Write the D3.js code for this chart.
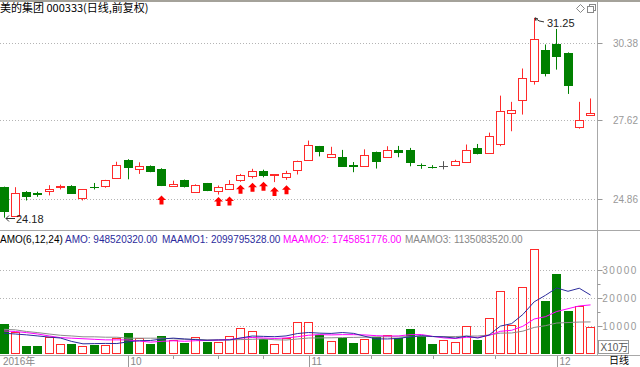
<!DOCTYPE html>
<html><head><meta charset="utf-8">
<script src="https://cdn.jsdelivr.net/npm/d3@7"></script>
<style>
body{margin:0;background:#fff}
svg{display:block}
text{font-family:"Liberation Sans",Arial,"Noto Sans CJK SC",sans-serif}
</style>
</head><body>
<svg id="c" width="640" height="367"></svg>
<script>
// ---------- data ----------
const title = "美的集团 000333(日线,前复权)";
const openP  = [25.26,24.24,25.10,25.05,25.12,25.26,25.30,24.88,25.28,25.30,25.59,26.21,25.90,26.02,25.91,25.30,25.51,25.10,25.40,25.13,25.18,25.53,25.67,25.84,25.70,25.63,25.88,26.21,26.71,26.34,26.34,26.04,26.02,26.51,26.34,26.57,26.57,26.05,25.99,26.01,26.04,26.16,26.63,26.48,26.80,27.89,28.35,29.01,30.11,30.31,30.02,27.38,27.83];
const highP  = [25.28,25.26,25.12,25.10,25.33,25.35,25.33,25.19,25.41,25.52,26.16,26.25,26.14,26.03,25.93,25.49,25.53,25.36,25.41,25.32,25.51,25.73,25.91,25.88,25.72,25.84,26.20,26.91,26.72,26.69,26.58,26.15,26.60,26.52,26.71,26.72,26.65,26.10,26.04,26.18,26.23,26.77,26.79,27.19,28.50,28.28,29.46,31.25,30.31,30.86,30.03,28.28,28.40];
const lowP   = [24.18,24.22,24.79,24.92,24.97,25.18,25.05,24.79,25.18,25.24,25.59,25.54,25.73,25.79,25.30,25.27,25.25,25.09,25.12,25.00,25.18,25.45,25.57,25.61,25.44,25.52,25.71,26.21,26.35,26.34,26.02,25.79,26.02,25.92,26.34,26.32,26.00,25.91,25.92,25.89,26.01,26.16,26.42,26.48,26.71,27.24,27.83,28.89,29.18,29.42,28.56,27.33,27.83];
const closeP = [24.43,25.04,24.94,25.03,25.19,25.29,25.05,25.19,25.26,25.51,26.05,25.99,26.02,25.84,25.34,25.38,25.31,25.35,25.16,25.28,25.37,25.70,25.84,25.70,25.72,25.77,26.17,26.77,26.53,26.43,26.02,26.02,26.41,26.20,26.59,26.49,26.16,26.03,25.97,26.01,26.18,26.59,26.47,27.07,27.97,28.00,29.13,30.49,29.29,29.90,28.89,27.62,27.90];
// volume in units of 10万
const volume = [10650,7900,2700,2700,5850,3550,3300,2800,3100,3100,5600,7300,5700,3300,6300,4900,3900,5850,4300,4000,6300,9100,8100,5100,3550,5700,11400,11400,6700,4500,5500,3900,5100,5850,6550,5700,8950,6300,3300,4900,4150,9800,4900,12700,22550,10300,23900,37500,18950,28600,15350,16900,9485];
const maamo1 = [7300,7000,6700,6300,5900,5560,4330,3480,3550,3620,3580,4200,4600,4680,5220,5520,5230,4990,4760,4880,4880,5580,6280,6150,6030,6310,7160,7540,7310,7210,7530,7230,6180,5260,5230,5430,6010,6410,6110,5950,5550,6230,5560,6630,9830,10730,14030,18560,20900,23550,22350,23450,21000];
const maamo2 = [8100,7900,7500,7000,6300,5700,5500,5300,5100,4900,4900,4880,4470,4080,4380,4570,4400,4600,4680,4780,5050,5550,5750,5570,5390,5590,6020,6560,6790,6680,6780,6770,6670,6400,6270,6320,6770,6820,6150,5600,5390,5830,5780,6520,7970,8340,9790,12400,13230,15090,16090,17090,17460];
const maamo3 = [8700,8500,7900,7500,7000,6550,6300,6000,6000,5850,5850,5500,5500,5500,5500,5300,5100,5100,4900,4900,4900,5000,5100,5230,4930,4840,5200,5560,5600,5640,5730,5780,5860,5970,6010,5950,6080,6210,6080,6080,6090,6260,6280,6640,7320,7370,8030,9360,10000,10950,11120,11300,11350];
const signalIdx   = [14,19,20,21,22,23,24,25];
const signalPrice = [24.97,24.91,24.93,25.35,25.42,25.45,25.27,25.33];
const priceTicks  = [24.86,27.62,30.38];
const volTicks    = [10000,20000,30000];
const volMinor    = [5000,15000,25000];
const monthIdx    = [11,27,49];
const monthLabels = ["10","11","12"];
const weekIdx     = [15,19,23,32.5,38,43.5];
const yearLabel   = "2016年";
const periodLabel = "日线";
const unitLabel   = "X10万";
const legendParts = [
  {t:"AMO(6,12,24)", c:"#000000"},
  {t:"AMO: 948520320.00", c:"#2b2b9c"},
  {t:"MAAMO1: 2099795328.00", c:"#2b2b9c"},
  {t:"MAAMO2: 1745851776.00", c:"#ff00ff"},
  {t:"MAAMO3: 1135083520.00", c:"#888888"}
];
const maxLabel = "31.25", minLabel = "24.18";

// ---------- layout ----------
const N = openP.length;
const svg = d3.select("#c");
const plotR = 597.5;
const RED = "#ff2a2a", GREEN = "#008000", DOJI = "#555555", GRID = "#b4b4b4";
const x = d3.scaleLinear().domain([-0.5, N - 0.5]).range([-1.6, 596.2]);
const yP = d3.scaleLinear().domain([24.86, 30.38]).range([198.5, 42.5]);
const yV = d3.scaleLinear().domain([0, 30000]).range([353.5, 270]);
const px = v => Math.round(v) + 0.5;

svg.append("rect").attr("width",640).attr("height",367).attr("fill","#fff");
svg.append("rect").attr("x",0).attr("y",0).attr("width",640).attr("height",2).attr("fill","#a4a29a");

// title
svg.append("text").attr("x",0).attr("y",12).attr("font-size","11px").attr("fill","#000")
  .style("font-family","'Noto Sans CJK SC',sans-serif").text(title);

// icons top right
svg.append("path").attr("d","M580.5,4.5 L584.5,8.5 L580.5,12.5 L576.5,8.5 Z").attr("fill","none").attr("stroke","#888");
svg.append("rect").attr("x",589.5).attr("y",4.5).attr("width",6).attr("height",6).attr("fill","#fff").attr("stroke","#888");
svg.append("rect").attr("x",587.5).attr("y",6.5).attr("width",6).attr("height",6).attr("fill","#fff").attr("stroke","#888");

// frame lines
svg.append("line").attr("x1",plotR).attr("x2",plotR).attr("y1",2).attr("y2",356).attr("stroke","#a8a8a8");
svg.append("line").attr("x1",0).attr("x2",640).attr("y1",230.5).attr("y2",230.5).attr("stroke","#a8a8a8");
svg.append("line").attr("x1",0).attr("x2",640).attr("y1",355.5).attr("y2",355.5).attr("stroke","#a8a8a8");

// price grid + labels
const pg = svg.append("g");
priceTicks.forEach(t => {
  const yy = px(yP(t));
  pg.append("line").attr("x1",0).attr("x2",plotR-1).attr("y1",yy).attr("y2",yy)
    .attr("stroke",GRID).attr("stroke-dasharray","1,2");
  pg.append("line").attr("x1",plotR).attr("x2",plotR+5).attr("y1",yy).attr("y2",yy).attr("stroke","#999");
  pg.append("text").attr("x",638).attr("y",yy+3.5).attr("text-anchor","end")
    .attr("font-size","10px").attr("fill","#999").text(t.toFixed(2));
});

// candles
const cg = svg.append("g");
for (let i = 0; i < N; i++) {
  const o = openP[i], c = closeP[i], h = highP[i], l = lowP[i];
  const col = c > o ? RED : (c < o ? GREEN : DOJI);
  const left = Math.round(x(i) - 4.5);
  const mid = left + 4.5;
  const yTop = yP(Math.max(o, c)), yBot = yP(Math.min(o, c));
  const bt = Math.round(yTop), bb = Math.round(yBot);
  if (bb - bt < 1) {
    cg.append("line").attr("x1",mid).attr("x2",mid).attr("y1",yP(h)).attr("y2",yP(l)).attr("stroke",col);
    cg.append("line").attr("x1",left).attr("x2",left+9).attr("y1",bt+0.5).attr("y2",bt+0.5).attr("stroke",col);
    continue;
  }
  if (col === RED) {
    cg.append("line").attr("x1",mid).attr("x2",mid).attr("y1",yP(h)).attr("y2",bt+0.5).attr("stroke",col);
    cg.append("line").attr("x1",mid).attr("x2",mid).attr("y1",bb+0.5).attr("y2",yP(l)).attr("stroke",col);
    cg.append("rect").attr("x",left+0.5).attr("y",bt+0.5).attr("width",8).attr("height",bb-bt)
      .attr("fill","#fff").attr("stroke",col);
  } else {
    cg.append("line").attr("x1",mid).attr("x2",mid).attr("y1",yP(h)).attr("y2",yP(l)).attr("stroke",col);
    cg.append("rect").attr("x",left+0.5).attr("y",bt+0.5).attr("width",8).attr("height",bb-bt)
      .attr("fill",col).attr("stroke",col);
  }
}

// signal arrows
signalIdx.forEach((idx, k) => {
  const cx = Math.round(x(idx) - 4.5) + 4.5, t = yP(signalPrice[k]);
  const d = `M${cx},${t} L${cx+4.5},${t+4.5} L${cx+2},${t+4.5} L${cx+2},${t+9} L${cx-2},${t+9} L${cx-2},${t+4.5} L${cx-4.5},${t+4.5} Z`;
  cg.append("path").attr("d",d).attr("fill","#ff0000");
});

// max / min labels
const iMax = d3.maxIndex(highP), iMin = d3.minIndex(lowP);
{
  const mx = Math.round(x(iMax) - 4.5) + 5, my = yP(highP[iMax]);
  cg.append("path").attr("d",`M${mx},${my} L${mx+3},${my+1} M${mx},${my} L${mx+1},${my+3} M${mx},${my} L${mx+4},${my+3} L${mx+9},${my+4}`)
    .attr("fill","none").attr("stroke","#333");
  cg.append("text").attr("x",mx+12).attr("y",my+9).attr("font-size","11px").attr("fill","#222").text(maxLabel);
  const nx = Math.round(x(iMin) - 4.5) + 6, ny = Math.round(yP(lowP[iMin])) + 0.5;
  cg.append("path").attr("d",`M${nx},${ny} L${nx+9},${ny} M${nx},${ny} L${nx+3},${ny-3} M${nx},${ny} L${nx+3},${ny+3}`)
    .attr("fill","none").attr("stroke","#333");
  cg.append("text").attr("x",nx+10).attr("y",ny+4.5).attr("font-size","11px").attr("fill","#222").text(minLabel);
}

// volume legend
const lg = svg.append("g");
const legendX = [0, 65, 162, 283, 405];
legendParts.forEach((p, k) => {
  lg.append("text").attr("x",legendX[k]).attr("y",243).attr("font-size","10px").attr("fill",p.c).text(p.t);
});

// volume grid + labels
const vg = svg.append("g");
volTicks.forEach(t => {
  const yy = px(yV(t));
  vg.append("line").attr("x1",0).attr("x2",plotR-1).attr("y1",yy).attr("y2",yy)
    .attr("stroke",GRID).attr("stroke-dasharray","1,2");
  vg.append("line").attr("x1",plotR).attr("x2",plotR+5).attr("y1",yy).attr("y2",yy).attr("stroke","#999");
  vg.append("text").attr("x",638).attr("y",yy+3.5).attr("text-anchor","end")
    .attr("font-size","10px").attr("letter-spacing","1.6px").attr("fill","#999").text(t);
});
volMinor.forEach(t => {
  const yy = px(yV(t));
  vg.append("line").attr("x1",plotR).attr("x2",plotR+3).attr("y1",yy).attr("y2",yy).attr("stroke","#999");
});

// volume bars
for (let i = 0; i < N; i++) {
  const up = closeP[i] >= openP[i];
  const left = Math.round(x(i) - 4.5);
  const top = Math.round(yV(volume[i]));
  const base = Math.round(yV(0));
  if (up) {
    vg.append("rect").attr("x",left+0.5).attr("y",top+0.5).attr("width",8).attr("height",base-top-1)
      .attr("fill","#fff").attr("stroke",RED);
  } else {
    vg.append("rect").attr("x",left).attr("y",top).attr("width",9).attr("height",base-top).attr("fill",GREEN);
  }
}

// MA lines
const line = d3.line().x((d,i) => x(i)).y(d => yV(d));
[[maamo3,"#8c8c8c"],[maamo2,"#ff00ff"],[maamo1,"#2b2b9c"]].forEach(([arr,col]) => {
  vg.append("path").attr("d",line(arr)).attr("fill","none").attr("stroke",col).attr("stroke-width",1);
});

// unit box
vg.append("rect").attr("x",598.5).attr("y",340.5).attr("width",30).attr("height",13).attr("fill","#fff").attr("stroke","#999");
vg.append("text").attr("x",600.5).attr("y",351).attr("font-size","10px").attr("fill","#555")
  .style("font-family","'Liberation Sans','Noto Sans CJK SC',sans-serif").text(unitLabel);

// date axis
const ag = svg.append("g");
weekIdx.forEach(idx => {
  const xx = px(x(idx));
  ag.append("line").attr("x1",xx).attr("x2",xx).attr("y1",356).attr("y2",359).attr("stroke","#999");
});
monthIdx.forEach((idx, k) => {
  const xx = px(x(idx));
  ag.append("line").attr("x1",xx).attr("x2",xx).attr("y1",356).attr("y2",367).attr("stroke","#999");
  ag.append("text").attr("x",xx+2).attr("y",365).attr("font-size","10px").attr("fill","#888").text(monthLabels[k]);
});
ag.append("text").attr("x",3).attr("y",365).attr("font-size","10px").attr("fill","#888")
  .style("font-family","'Liberation Sans','Noto Sans CJK SC',sans-serif").text(yearLabel);
ag.append("text").attr("x",609).attr("y",364).attr("font-size","10px").attr("fill","#000")
  .style("font-family","'Noto Sans CJK SC',sans-serif").text(periodLabel);
</script>
</body></html>
